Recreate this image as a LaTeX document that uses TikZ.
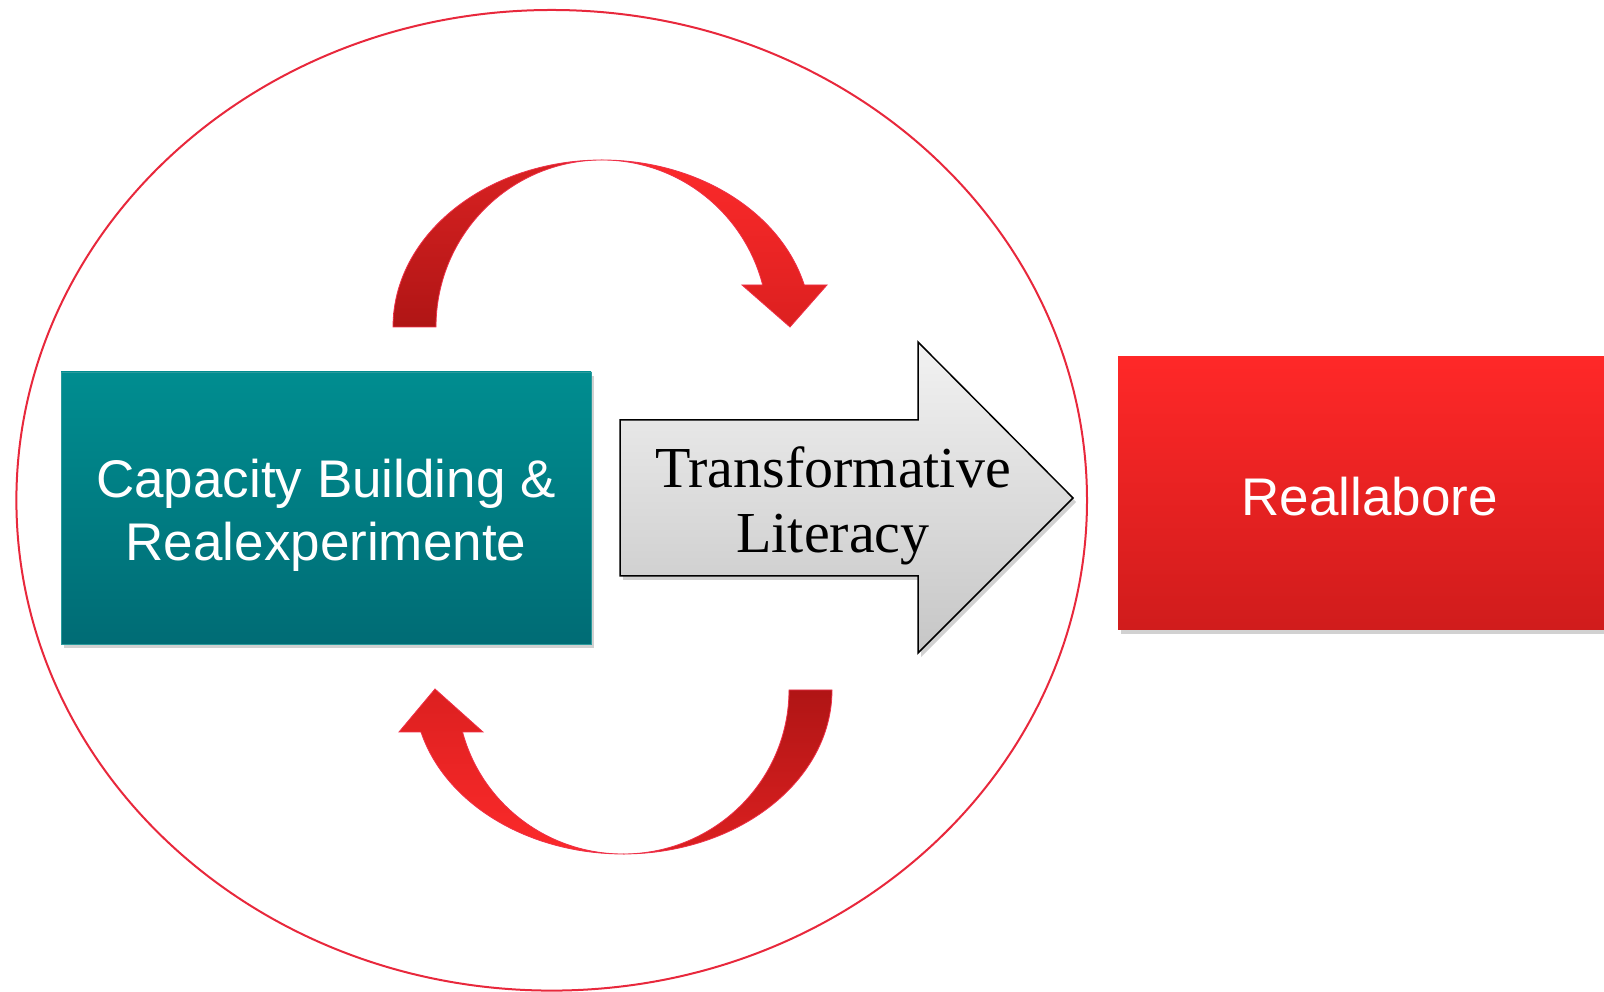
\documentclass[tikz,border=0pt]{standalone}
\usepackage{fontspec}
\newfontfamily\sansf{Liberation Sans}
\newfontfamily\seriff{Liberation Serif}
\usetikzlibrary{shadows}
\definecolor{ringred}{HTML}{E8283C}
\definecolor{tealtop}{HTML}{008D90}
\definecolor{tealbot}{HTML}{006C75}
\definecolor{tealedge}{HTML}{2A9A9C}
\definecolor{redtop}{HTML}{FF2828}
\definecolor{redbot}{HTML}{D01C1C}
\definecolor{graytop}{HTML}{F2F2F2}
\definecolor{graybot}{HTML}{C6C6C6}
\definecolor{rdark}{HTML}{B01515}
\definecolor{rmid}{HTML}{D92222}
\definecolor{rbright}{HTML}{FC2A2A}
\definecolor{rhead}{HTML}{DC2020}
\definecolor{redge}{HTML}{EE3048}
\tikzset{
  softshadow/.style={drop shadow={shadow xshift=3pt, shadow yshift=-4pt, opacity=0.18, fill=black}},
  boxnode/.style={rectangle, inner sep=0pt, softshadow},
  whitetext/.style={align=center, text=white, font=\sansf\fontsize{53}{63}\selectfont},
  ribbon/.style={draw=redge, line width=0.8pt},
}
\begin{document}
\begin{tikzpicture}[x=1pt,y=1pt]
\useasboundingbox (0,0) rectangle (1604,992);
% ring
\draw[ringred, line width=2pt] (551.7,491.7) ellipse [x radius=535.3, y radius=490.3];
% left box
\node[boxnode, top color=tealtop, bottom color=tealbot, draw=tealedge, line width=0.8pt,
      minimum width=530, minimum height=272] (cap) at (326,484) {};
\node[whitetext] (captext) at (326,477) {Capacity Building \&\\Realexperimente};
% right box
\node[boxnode, top color=redtop, bottom color=redbot,
      minimum width=503, minimum height=273] (real) at (1369.5,498.5) {};
\node[whitetext] (realtext) at (1369.5,495) {Reallabore};
% grey block arrow
\shade[top color=graytop, bottom color=graybot, draw=black, line width=1.5pt, line join=miter, softshadow]
  (620,572) -- (918,572) -- (918,650) -- (1073,494) -- (918,339) -- (918,416) -- (620,416) -- cycle;
\node[align=center, font=\seriff\fontsize{58}{65}\selectfont, text=black] (lit) at (833,486)
  {Transformative\\Literacy};
% top curved arrow
\shade[ribbon, top color=rmid, bottom color=rdark]
  (393,665) arc[start angle=180, end angle=90, x radius=209, y radius=167]
  arc[start angle=90, end angle=180, x radius=166, y radius=167] -- cycle;
\shade[ribbon, top color=rbright, bottom color=rhead]
  (602,832) arc[start angle=90, end angle=14.57, x radius=209, y radius=167]
  -- (827,707) -- (790,665) -- (742,707) -- (762.66,707)
  arc[start angle=14.57, end angle=90, x radius=166, y radius=167] -- cycle;
% bottom curved arrow
\shade[ribbon, top color=rdark, bottom color=rhead]
  (832,302) arc[start angle=0, end angle=-90, x radius=209, y radius=164]
  arc[start angle=-90, end angle=0, x radius=166, y radius=164] -- cycle;
\shade[ribbon, top color=rhead, bottom color=rbright]
  (623,138) arc[start angle=-90, end angle=-165.16, x radius=209, y radius=164]
  -- (399,260) -- (435,303) -- (483,260) -- (462.54,260)
  arc[start angle=-165.16, end angle=-90, x radius=166, y radius=164] -- cycle;
\end{tikzpicture}
\end{document}
